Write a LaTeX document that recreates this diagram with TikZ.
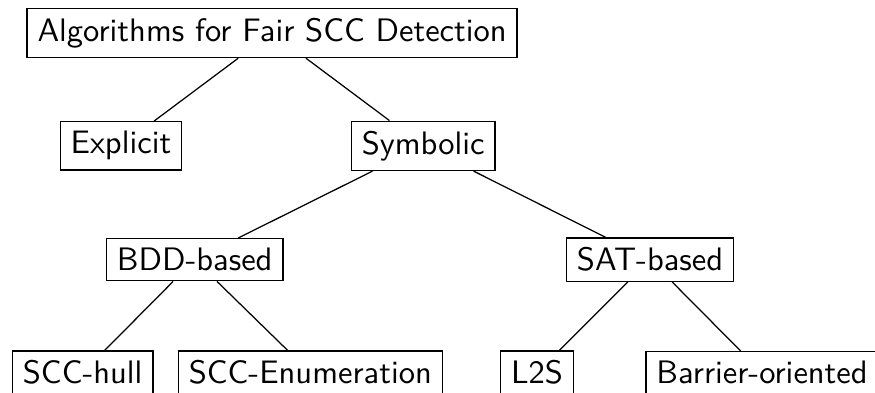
\documentclass[tikz,border=0pt]{standalone}
\usepackage{tikz}
\tikzset{algbox/.style={draw, inner ysep=3.1pt, font=\sffamily\fontsize{10.4}{12.5}\selectfont}}

\begin{document}
\begin{tikzpicture}
            \useasboundingbox (0,0) rectangle (9.84,-4.41);

            % Root
            \node[algbox] (root) at (3.06,-0.37) {Algorithms for Fair SCC Detection};

            % Level 1
            \node[algbox] (explicit) at (1.36,-1.64) {Explicit};
            \node[algbox] (symbolic) at (4.76,-1.64) {Symbolic};

            % Level 2
            \node[algbox] (bdd) at (2.19,-2.92) {BDD-based};
            \node[algbox] (sat) at (7.31,-2.92) {SAT-based};

            % Leaves
            \node[algbox] (hull) at (0.93,-4.19) {SCC-hull};
            \node[algbox] (enum) at (3.49,-4.19) {SCC-Enumeration};
            \node[algbox] (ltwos) at (6.04,-4.19) {L2S};
            \node[algbox] (barrier) at (8.57,-4.19) {Barrier-oriented};

            % Edges
            \draw (root) -- (explicit);
            \draw (root) -- (symbolic);
            \draw (symbolic) -- (bdd);
            \draw (symbolic) -- (sat);
            \draw (bdd) -- (hull);
            \draw (bdd) -- (enum);
            \draw (sat) -- (ltwos);
            \draw (sat) -- (barrier);
        \end{tikzpicture}
\end{document}
